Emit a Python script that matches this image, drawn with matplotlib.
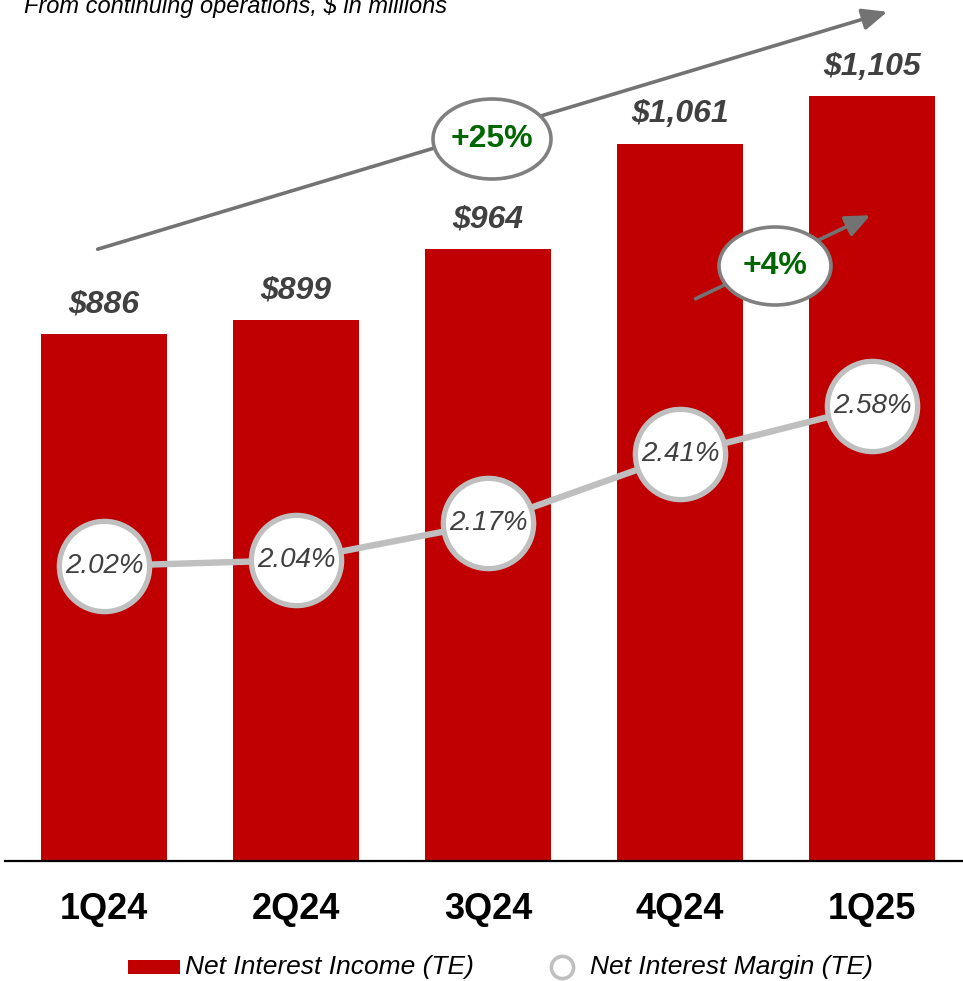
import matplotlib as mpl
mpl.use("Agg")
from matplotlib import pyplot as plt
from matplotlib.patches import Ellipse, Rectangle
from matplotlib.lines import Line2D

quarters = ["1Q24", "2Q24", "3Q24", "4Q24", "1Q25"]
nii = [886, 899, 964, 1061, 1105]
nim = [2.02, 2.04, 2.17, 2.41, 2.58]
nii_labels = ["$886", "$899", "$964", "$1,061", "$1,105"]
nim_labels = ["2.02%", "2.04%", "2.17%", "2.41%", "2.58%"]
growth_yoy = "+25%"
growth_qoq = "+4%"

W, H = 963, 981
RED = "#C00000"
DARK = "#404040"
GREEN = "#006600"
ARROW = "#737373"

plt.rcParams['font.family'] = ['Liberation Sans', 'DejaVu Sans']


def fx(px):
    return px / W


def fy(py):
    return 1 - py / H


fig = plt.figure(figsize=(W / 100, H / 100), dpi=100)
ax = fig.add_axes([fx(5), fy(861), 1 - fx(5), 861 / H])
x = list(range(len(quarters)))

ax.bar(x, nii, width=0.66, color=RED, zorder=2)
ax.set_xlim(-0.516, 4.474)
ax.set_ylim(401, 1193)
for xi, v, lab in zip(x, nii, nii_labels):
    ax.annotate(lab, (xi, v), xytext=(0, 21), textcoords="offset points",
                ha="center", va="center", fontsize=23, fontweight="bold",
                fontstyle="italic", color=DARK)

ax.set_xticks(x)
ax.set_xticklabels(quarters, fontsize=26, fontweight="bold")
ax.tick_params(axis="x", length=0, pad=22)
ax.set_yticks([])
for s in ["top", "right", "left"]:
    ax.spines[s].set_visible(False)
ax.spines["bottom"].set_linewidth(1.6)
ax.spines["bottom"].set_color("black")

# margin line on its own scale
ax2 = ax.twinx()
ax2.set_ylim(0.987, 4.001)
ax2.axis("off")
ax2.plot(x, nim, color="#BFBFBF", lw=4.6, zorder=3)
ax2.plot(x, nim, "o", ms=65, mfc="white", mec="#BFBFBF", mew=3.8, zorder=4)
for xi, v, lab in zip(x, nim, nim_labels):
    ax2.text(xi, v, lab, ha="center", va="center", fontsize=20,
             fontstyle="italic", color=DARK, zorder=5)

# growth arrows with ellipse callouts
for (x0, y0), (x1, y1) in [((95, 250), (890, 11)), ((693, 300), (873, 214))]:
    fig.add_artist(mpl.patches.FancyArrowPatch(
        (fx(x0), fy(y0)), (fx(x1), fy(y1)), transform=fig.transFigure,
        arrowstyle="-|>,head_length=15,head_width=6.5", color=ARROW, lw=2.6,
        mutation_scale=1, zorder=6))

for cx, cy, w, h, txt in [(492, 139, 118, 80, growth_yoy),
                          (775, 266, 112, 78, growth_qoq)]:
    fig.add_artist(Ellipse((fx(cx), fy(cy)), fx(w), h / H,
                           transform=fig.transFigure, facecolor="white",
                           edgecolor="#808080", lw=2.6, zorder=7))
    fig.text(fx(cx), fy(cy), txt, ha="center", va="center", fontsize=23,
             fontweight="bold", color=GREEN, zorder=8)

fig.text(fx(24), fy(13), "From continuing operations, $ in millions",
         ha="left", va="baseline", fontsize=17, fontstyle="italic",
         color="black")

# legend
fig.add_artist(Rectangle((fx(128), fy(974)), fx(52), 14 / H,
                         transform=fig.transFigure, color=RED, lw=0))
fig.text(fx(185), fy(967), "Net Interest Income (TE)", ha="left",
         va="center", fontsize=19, fontstyle="italic")
fig.add_artist(Line2D([fx(562)], [fy(967)], marker="o", ms=16,
                      mfc="white", mec="#BFBFBF", mew=2.6,
                      transform=fig.transFigure))
fig.text(fx(590), fy(967), "Net Interest Margin (TE)", ha="left",
         va="center", fontsize=19, fontstyle="italic")

fig.savefig("out.png", dpi=100)
